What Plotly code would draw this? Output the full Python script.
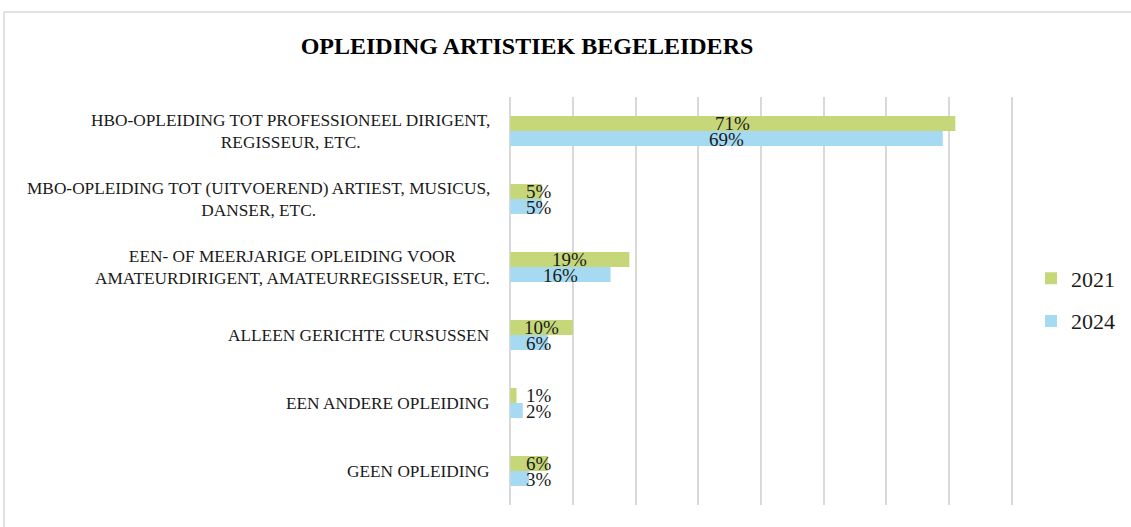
import plotly.graph_objects as go

categories = [
    "HBO-OPLEIDING TOT PROFESSIONEEL DIRIGENT,<br>REGISSEUR, ETC.",
    "MBO-OPLEIDING TOT (UITVOEREND) ARTIEST, MUSICUS,<br>DANSER, ETC.",
    "EEN- OF MEERJARIGE OPLEIDING VOOR<br>AMATEURDIRIGENT, AMATEURREGISSEUR, ETC.",
    "ALLEEN GERICHTE CURSUSSEN",
    "EEN ANDERE OPLEIDING",
    "GEEN OPLEIDING",
]
values_2021 = [71, 5, 19, 10, 1, 6]
values_2024 = [69, 5, 16, 6, 2, 3]
series_names = ["2021", "2024"]
title_text = "OPLEIDING ARTISTIEK BEGELEIDERS"

GREEN = "#c6d77a"
BLUE = "#a6daf3"
GRID = "#d9d9d9"
FONT = "Liberation Serif"

W, H = 1131, 527
ML, MR, MT, MB = 509, 118, 97, 22
PW, PH = W - ML - MR, H - MT - MB

fig = go.Figure()
for name, vals, col in [(series_names[0], values_2021, GREEN), (series_names[1], values_2024, BLUE)]:
    fig.add_trace(go.Bar(
        y=categories, x=vals, name=name, orientation="h",
        marker=dict(color=col, line=dict(width=0)),
        legendgroup=name, hoverinfo="x+y",
    ))

annotations = []
for c in categories:
    annotations.append(dict(
        x=0, y=c, xref="x", yref="y", text=c, showarrow=False,
        xanchor="right", yanchor="middle", align="center", xshift=-18,
        font=dict(family=FONT, size=17.3, color="#1a1a1a"),
    ))
for vals, shift in [(values_2021, 8), (values_2024, -8)]:
    for c, v in zip(categories, vals):
        annotations.append(dict(
            x=max(v / 2, 4.6), y=c, xref="x", yref="y", text=f"{v}%",
            showarrow=False, xanchor="center", yanchor="middle", yshift=shift,
            font=dict(family=FONT, size=19, color="#1a1a1a"),
        ))

fig.update_layout(
    width=W, height=H,
    margin=dict(l=ML, r=MR, t=MT, b=MB, autoexpand=False),
    paper_bgcolor="white", plot_bgcolor="white",
    barmode="group", bargap=0.56, bargroupgap=0,
    title=dict(text=f"<b>{title_text}</b>", x=527 / W, y=1 - 46 / H,
               xanchor="center", yanchor="middle", xref="container", yref="container",
               font=dict(family=FONT, size=24, color="#000000")),
    xaxis=dict(range=[-0.2, 80.2], dtick=10, tick0=0, showgrid=True, gridcolor=GRID, gridwidth=1.5,
               zeroline=True, zerolinecolor=GRID, zerolinewidth=1.5,
               showticklabels=False, ticks="", showline=False, fixedrange=True),
    yaxis=dict(autorange="reversed", showticklabels=False, ticks="", showgrid=False,
               showline=False, zeroline=False, fixedrange=True),
    legend=dict(x=(1031 - ML) / PW, y=(H - MB - 300) / PH, xanchor="left", yanchor="middle",
                font=dict(family=FONT, size=22, color="#1a1a1a"),
                traceorder="grouped", tracegroupgap=11, itemwidth=30,
                bgcolor="rgba(0,0,0,0)"),
    annotations=annotations,
    shapes=[dict(type="rect", xref="paper", yref="paper",
                 x0=(4 - ML) / PW, x1=(1140 - ML) / PW,
                 y0=(H - MB - 540) / PH, y1=(H - MB - 12) / PH,
                 line=dict(color=GRID, width=1.5), fillcolor="rgba(0,0,0,0)", layer="below")],
)

fig.write_html(
    "out.html",
    config={"displayModeBar": False},
    post_script="document.body.style.margin='0';document.body.style.overflow='hidden';",
)
